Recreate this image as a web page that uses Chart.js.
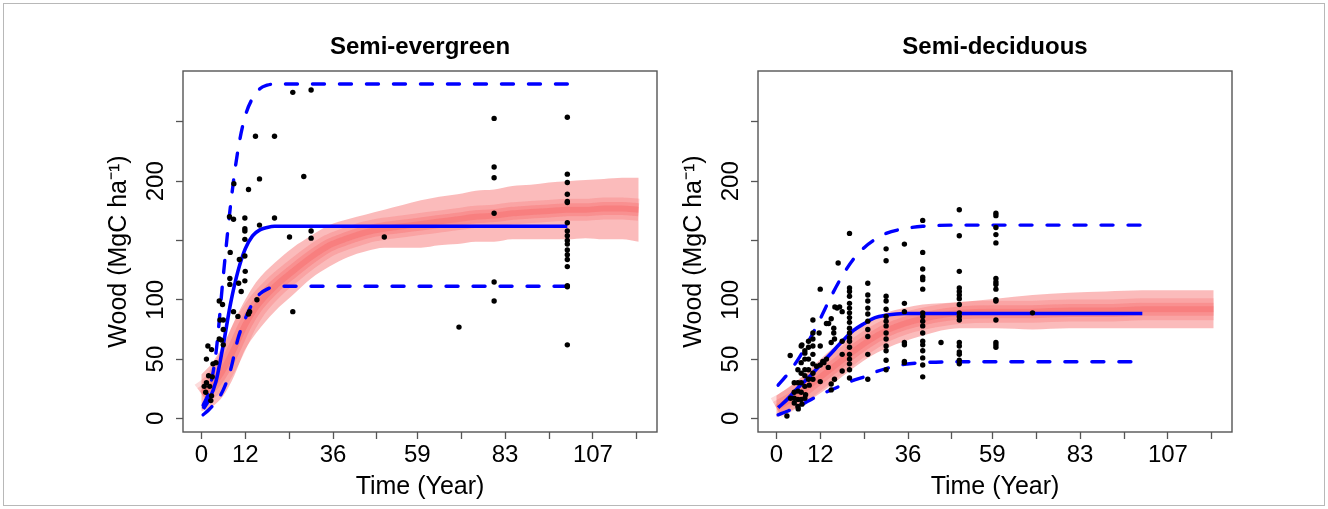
<!DOCTYPE html>
<html>
<head>
<meta charset="utf-8">
<script src="https://cdn.jsdelivr.net/npm/chart.js@4"></script>
<style>
  html, body { margin: 0; padding: 0; background: #fff; }
  #wrap { position: relative; width: 1328px; height: 509px; overflow: hidden; }
  #frame { position: absolute; left: 3px; top: 3px; width: 1320px; height: 501px; border: 1px solid #b8b8b8; }
  canvas { position: absolute; top: 0; }
</style>
</head>
<body>
<div id="wrap">
  <div id="frame"></div>
  <canvas id="evg" width="664" height="509" style="left:0px"></canvas>
  <canvas id="dec" width="664" height="509" style="left:575px"></canvas>
</div>
<script>
// ticks: R draws every tick but drops labels that would overlap
const timeTicks = [0, 12, 24, 36, 48, 59, 71, 83, 95, 107, 119];
const timeLabels = [0, 12, 36, 59, 83, 107];
const woodTicks = [0, 50, 100, 150, 200, 250];
const woodLabels = [0, 50, 100, 200];

// Semi-evergreen : fitted curve and its bounds
const evgFitTime = [0.5, 2, 4, 6, 8, 10, 12, 14, 16, 18, 20, 25, 30, 40, 60, 80, 100];
const evgFit   = [8, 15, 31, 62, 97, 124, 143, 154, 159, 161, 162, 162, 162, 162, 162, 162, 162];
const evgUpper = [11, 22, 55, 120, 180, 226, 255, 270, 278, 281, 282, 282, 282, 282, 282, 282, 282];
const evgLower = [3, 7, 14, 24, 41, 67, 84, 97, 105, 109, 111, 111.5, 111.5, 111.5, 111.5, 111.5, 111.5];

// Semi-evergreen : simulated envelope (red)
const evgSimTime = [0, 3, 6, 9, 12, 15, 20, 25, 30, 35, 40, 45, 50, 55, 60, 65, 70, 75, 80, 85, 90, 95, 100, 105, 110, 115, 119.5];
const evgSimLow  = [6, 10, 19, 36, 58, 72, 90, 104, 118, 128, 136, 141, 144, 144, 144, 146, 147, 149, 149, 151, 151, 151, 151, 152, 151, 151, 149];
const evgSimMid  = [21, 28, 41, 59, 79, 94, 111, 124, 136, 146, 152, 157, 160, 162, 164, 166, 168, 170, 171, 173, 174, 175, 176, 176, 177, 177, 176];
const evgSimHigh = [37, 47, 62, 82, 100, 115, 131, 144, 154, 163, 168, 172, 176, 180, 184, 187, 189, 192, 193, 196, 197, 199, 200, 201, 202, 203, 203];

// Semi-evergreen : field plots [age, wood]
const evgPlots = [
  [0.8,27],[1.2,22],[1.4,30],[1.4,50],[1.8,61],[2,36],[2.3,27],[2.6,15],[2.8,19],[2.8,58],
  [3,35],[3.2,46],[4,47],[4.9,67],[4.9,99],[5.1,83],[5.5,66],[5.8,96],[6,62],[6,75],[6,83],
  [7.8,113],[7.8,118],[7.9,140],[7.7,170],[8.8,90],[8.8,168],[8.9,198],[10,86],[10.2,114],
  [10.4,134],[10.9,107],[11.9,116],[12,124],[11.9,137],[11.9,151],[11.9,158],[11.9,160],
  [11.9,169],[12.9,88],[13.2,90],[12.9,193],[14.8,238],[15.2,100],[15.9,163],[15.9,202],
  [20,169],[20,238],[24.1,153],[25,90],[25,275],[28,204],[30,152],[30,158],[30,277],[50,153],[70.4,77],
  [80,99],[80,115],[80,173],[80,203],[80,212],[80,253],
  [100,62],[100,111],[100,112],[100,128],[100,134],[100,138],[100,142],[100,147],[100,150],
  [100,154],[100,158],[100,165],[100,182],[100,183],[100,189],[100,199],[100,206],[100,254]
];

// Semi-deciduous : fitted curve and its bounds
const decFitTime = [0.5, 3, 6, 9, 12, 15, 18, 21, 24, 27, 30, 35, 40, 50, 60, 80, 100];
const decFit   = [9, 16, 26, 35, 45, 55, 65, 74, 80, 85, 87, 88.5, 88.5, 88.5, 88.5, 88.5, 88.5];
const decUpper = [28, 37, 50, 66, 84, 103, 120, 134, 144, 151, 156, 160, 162, 163, 163, 163, 163];
const decLower = [3, 6, 10, 15, 20, 24, 28, 32, 35, 39, 42, 45.5, 47, 47.7, 47.7, 47.7, 47.7];

// Semi-deciduous : simulated envelope (red)
const decSimTime = [0, 5, 10, 15, 20, 25, 30, 35, 40, 50, 60, 70, 80, 90, 100, 110, 119.5];
const decSimLow  = [1, 8, 17, 28, 40, 51, 59, 65, 70, 76, 76, 75, 76, 76, 76, 76, 76];
const decSimMid  = [9, 18, 30, 42, 54, 65, 74, 80, 84, 89, 90, 90, 91, 91, 92, 92, 92];
const decSimHigh = [19, 30, 44, 58, 70, 81, 89, 93, 96, 98, 101, 104, 106, 107, 108, 108, 108];

// Semi-deciduous : field plots [age, wood]
const decPlots = [
  [2.9,2],[3.8,53],[7,62],[12,109],[10,83],[16.9,131],[14.3,80],[16.6,93],[17.3,94],[16,94],
  [18,90],[15,84],[13.7,80],[10,72],[11.7,72],[12,61],[8.8,65],[6.8,61],[7.8,55],[8.8,50],
  [15.7,76],[15.7,72],[15.9,67],[15,64],[18,65],[18,54],[18,40],[15.9,33],[15,29],[15,24],
  [13.7,50],[12.7,48],[14.2,43],[12,31],[10,67],[10,61],[10,54],[10,46],[10,38],[10,33],
  [8.8,60],[8.8,41],[8.8,33],[7.8,57],[7.8,50],[7.8,41],[7.8,36],[7.8,27],[6.8,47],[6.8,38],
  [6.8,30],[6.8,22],[5.9,41],[5.9,30],[5.9,23],[5.9,16],[4.9,30],[4.9,22],[4.9,17],[4.9,13],
  [3.9,17],[5.9,10],[6.8,16],[7.8,17],[12,45],[13,47],[11,44],[9,28],[8,20],[6,8],[7,12],
  [20,156],[20,110],[20,107],[20,103],[20,97],[20,93],[20,89],[20,85],[20,81],[20,76],
  [20,72],[20,68],[20,65],[20,60],[20,54],[20,50],[20,46],[20,41],[20,34],
  [25,114],[25,104],[25,99],[25,93],[25,88],[25,82],[25,75],[25,69],[25,54],[25,33],
  [30,143],[30,133],[30,103],[30,99],[30,92],[30,86],[30,82],[30,78],[30,72],[30,67],
  [30,61],[30,57],[30,49],[30,41],
  [35,147],[35,97],[35,90],[35,64],[35,62],[35,48],[35,47],
  [40,167],[40,140],[40,126],[40,119],[40,117],[40,109],[40,89],[40,86],[40,82],[40,78],
  [40,72],[40,65],[40,62],[40,57],[40,51],[40,45],[40,35],
  [45,64],
  [50,176],[50,154],[50,124],[50,110],[50,107],[50,104],[50,101],[50,96],[50,89],[50,86],
  [50,83],[50,64],[50,61],[50,56],[50,54],[50,49],[50,46],
  [60,173],[60,171],[60,161],[60,155],[60,148],[60,118],[60,115],[60,113],[60,109],[60,100],
  [60,99],[60,83],[60,64],[60,62],[60,60],
  [70,89]
];

Chart.defaults.font.family = '"Liberation Sans", Arial, Helvetica, sans-serif';

function zip(xs, ys) {
  return xs.map((x, i) => ({ x: x, y: ys[i] }));
}

// box round the plotting region, like R's box()
const boxPlugin = {
  id: 'box',
  afterDraw(chart) {
    const a = chart.chartArea;
    const ctx = chart.ctx;
    ctx.save();
    ctx.strokeStyle = '#555';
    ctx.lineWidth = 1.4;
    ctx.strokeRect(a.left, a.top, a.right - a.left, a.bottom - a.top);
    ctx.restore();
  }
};

function drawPanel(id, title, p) {
  const band = 'rgba(242, 50, 50, 0.33)';
  const core = 'rgba(242, 50, 50, 0.17)';
  const blue = '#0000ff';

  // darker core of the envelope: a few stacked translucent strokes along the median
  const coreLines = [22, 13, 6].map(w => ({
    data: zip(p.simTime, p.simMid), borderColor: core, borderWidth: w, pointRadius: 0,
    fill: false, order: 9, cubicInterpolationMode: 'monotone'
  }));

  return new Chart(document.getElementById(id), {
    type: 'line',
    data: {
      datasets: [
        { data: zip(p.simTime, p.simLow), borderColor: 'transparent', borderWidth: 1, pointRadius: 0,
          fill: false, order: 10, cubicInterpolationMode: 'monotone' },
        { data: zip(p.simTime, p.simHigh), borderColor: 'transparent', borderWidth: 1, pointRadius: 0,
          fill: '-1', backgroundColor: band, order: 10, cubicInterpolationMode: 'monotone' },
        ...coreLines,
        { data: zip(p.fitTime, p.upper), borderColor: blue, borderWidth: 3.4, borderDash: [12, 15],
          borderCapStyle: 'round', pointRadius: 0, fill: false, order: 3, cubicInterpolationMode: 'monotone' },
        { data: zip(p.fitTime, p.lower), borderColor: blue, borderWidth: 3.4, borderDash: [12, 15],
          borderCapStyle: 'round', pointRadius: 0, fill: false, order: 3, cubicInterpolationMode: 'monotone' },
        { data: zip(p.fitTime, p.fit), borderColor: blue, borderWidth: 3.6, pointRadius: 0,
          fill: false, order: 2, cubicInterpolationMode: 'monotone' },
        { data: p.plots.map(d => ({ x: d[0], y: d[1] })), showLine: false, pointRadius: 2.7,
          pointBackgroundColor: '#000', pointBorderWidth: 0, order: 1 }
      ]
    },
    options: {
      responsive: false,
      animation: false,
      layout: { padding: { left: 0, right: 7, top: 0, bottom: 0 } },
      plugins: {
        legend: { display: false },
        tooltip: { enabled: false },
        title: {
          display: true, text: title, fullSize: false, color: '#000',
          font: { size: 24, weight: 'bold' },
          padding: { top: 33, bottom: 9.2 }
        }
      },
      scales: {
        x: {
          type: 'linear', min: -5, max: 124.5,
          afterBuildTicks: s => { s.ticks = timeTicks.map(v => ({ value: v })); },
          afterFit: s => { s.height = 77; },
          ticks: {
            autoSkip: false, maxRotation: 0, color: '#000', font: { size: 24 }, padding: 1.5,
            callback: v => timeLabels.includes(v) ? String(v) : ''
          },
          grid: { drawOnChartArea: false, tickLength: 7, tickColor: '#555', tickWidth: 1.3 },
          border: { display: false },
          title: { display: true, text: 'Time (Year)', color: '#000', font: { size: 25 },
                   padding: { top: 0, bottom: 7 } }
        },
        y: {
          type: 'linear', min: -11.5, max: 293,
          afterBuildTicks: s => { s.ticks = woodTicks.map(v => ({ value: v })); },
          afterFit: s => { s.width = 183; },
          ticks: {
            autoSkip: false, minRotation: 90, maxRotation: 90, crossAlign: 'center',
            color: '#000', font: { size: 24 }, padding: 0,
            callback: v => woodLabels.includes(v) ? String(v) : ''
          },
          grid: { drawOnChartArea: false, tickLength: 7, tickColor: '#555', tickWidth: 1.3 },
          border: { display: false },
          title: { display: true, text: 'Wood (MgC ha\u207B\u00B9)', color: '#000', font: { size: 25 },
                   padding: { top: 104, bottom: 0 } }
        }
      }
    },
    plugins: [boxPlugin]
  });
}

drawPanel('evg', 'Semi-evergreen', {
  fitTime: evgFitTime, fit: evgFit, upper: evgUpper, lower: evgLower,
  simTime: evgSimTime, simLow: evgSimLow, simMid: evgSimMid, simHigh: evgSimHigh,
  plots: evgPlots
});
drawPanel('dec', 'Semi-deciduous', {
  fitTime: decFitTime, fit: decFit, upper: decUpper, lower: decLower,
  simTime: decSimTime, simLow: decSimLow, simMid: decSimMid, simHigh: decSimHigh,
  plots: decPlots
});
</script>
</body>
</html>
